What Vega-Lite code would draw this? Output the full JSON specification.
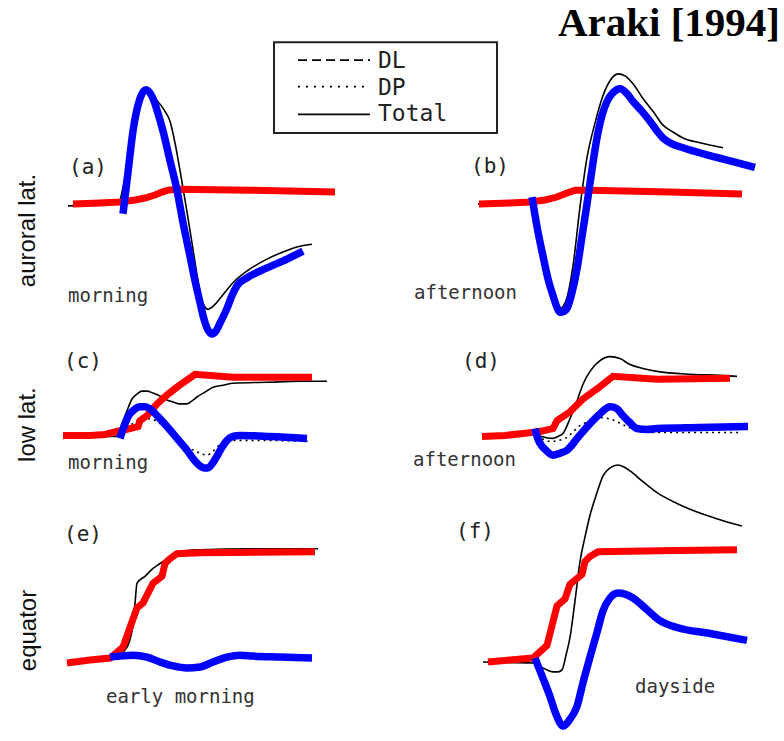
{
"$schema":"https://vega.github.io/schema/vega-lite/v6.json",
"width":784,"height":741,"padding":0,
"autosize":{"type":"fit","contains":"padding"},
"background":"white",
"config":{"view":{"stroke":null}},
"datasets":{
"total":[
{"p":"a","x":68,"y":209},{"p":"a","x":100,"y":208},{"p":"a","x":118,"y":207},{"p":"a","x":125,"y":180},{"p":"a","x":133,"y":135},{"p":"a","x":140,"y":102},{"p":"a","x":147,"y":93},{"p":"a","x":155,"y":100},{"p":"a","x":165,"y":113},{"p":"a","x":170,"y":123},{"p":"a","x":175,"y":145},{"p":"a","x":180,"y":173},{"p":"a","x":187,"y":215},{"p":"a","x":193,"y":253},{"p":"a","x":198,"y":285},{"p":"a","x":203,"y":308},{"p":"a","x":208,"y":314},{"p":"a","x":214,"y":310},{"p":"a","x":220,"y":303},{"p":"a","x":233,"y":287},{"p":"a","x":250,"y":273},{"p":"a","x":267,"y":263},{"p":"a","x":285,"y":255},{"p":"a","x":300,"y":250},{"p":"a","x":312,"y":248},
{"p":"b","x":478,"y":207},{"p":"b","x":530,"y":205},{"p":"b","x":540,"y":235},{"p":"b","x":548,"y":275},{"p":"b","x":555,"y":305},{"p":"b","x":560,"y":313},{"p":"b","x":566,"y":305},{"p":"b","x":573,"y":270},{"p":"b","x":580,"y":210},{"p":"b","x":587,"y":160},{"p":"b","x":595,"y":125},{"p":"b","x":602,"y":100},{"p":"b","x":610,"y":82},{"p":"b","x":618,"y":75},{"p":"b","x":625,"y":77},{"p":"b","x":633,"y":85},{"p":"b","x":643,"y":100},{"p":"b","x":653,"y":113},{"p":"b","x":663,"y":127},{"p":"b","x":673,"y":134},{"p":"b","x":683,"y":140},{"p":"b","x":700,"y":145},{"p":"b","x":723,"y":150},
{"p":"c","x":63,"y":443},{"p":"c","x":100,"y":443},{"p":"c","x":117,"y":443},{"p":"c","x":122,"y":430},{"p":"c","x":127,"y":417},{"p":"c","x":132,"y":405},{"p":"c","x":137,"y":400},{"p":"c","x":142,"y":397},{"p":"c","x":147,"y":397},{"p":"c","x":153,"y":399},{"p":"c","x":160,"y":402},{"p":"c","x":167,"y":406},{"p":"c","x":173,"y":408},{"p":"c","x":180,"y":410},{"p":"c","x":187,"y":410},{"p":"c","x":192,"y":407},{"p":"c","x":197,"y":403},{"p":"c","x":205,"y":398},{"p":"c","x":213,"y":393},{"p":"c","x":223,"y":391},{"p":"c","x":233,"y":389},{"p":"c","x":267,"y":388},{"p":"c","x":300,"y":387},{"p":"c","x":327,"y":387},
{"p":"d","x":482,"y":443},{"p":"d","x":520,"y":441},{"p":"d","x":537,"y":442},{"p":"d","x":545,"y":444},{"p":"d","x":553,"y":445},{"p":"d","x":558,"y":443},{"p":"d","x":563,"y":440},{"p":"d","x":570,"y":425},{"p":"d","x":577,"y":407},{"p":"d","x":583,"y":390},{"p":"d","x":590,"y":377},{"p":"d","x":600,"y":366},{"p":"d","x":610,"y":362},{"p":"d","x":620,"y":364},{"p":"d","x":630,"y":370},{"p":"d","x":643,"y":374},{"p":"d","x":657,"y":377},{"p":"d","x":690,"y":380},{"p":"d","x":720,"y":381},{"p":"d","x":737,"y":382},
{"p":"e","x":67,"y":673},{"p":"e","x":110,"y":668},{"p":"e","x":125,"y":660},{"p":"e","x":133,"y":635},{"p":"e","x":135,"y":613},{"p":"e","x":137,"y":592},{"p":"e","x":145,"y":585},{"p":"e","x":153,"y":577},{"p":"e","x":160,"y":572},{"p":"e","x":167,"y":567},{"p":"e","x":177,"y":560},{"p":"e","x":200,"y":558},{"p":"e","x":250,"y":557},{"p":"e","x":318,"y":557},
{"p":"f","x":483,"y":672},{"p":"f","x":533,"y":673},{"p":"f","x":543,"y":678},{"p":"f","x":553,"y":682},{"p":"f","x":558,"y":682},{"p":"f","x":562,"y":680},{"p":"f","x":566,"y":665},{"p":"f","x":570,"y":647},{"p":"f","x":575,"y":610},{"p":"f","x":580,"y":570},{"p":"f","x":585,"y":545},{"p":"f","x":590,"y":523},{"p":"f","x":597,"y":500},{"p":"f","x":603,"y":483},{"p":"f","x":610,"y":475},{"p":"f","x":618,"y":472},{"p":"f","x":624,"y":474},{"p":"f","x":630,"y":478},{"p":"f","x":643,"y":489},{"p":"f","x":657,"y":500},{"p":"f","x":673,"y":509},{"p":"f","x":690,"y":517},{"p":"f","x":715,"y":526},{"p":"f","x":742,"y":534}
],
"dpthin":[
{"p":"c","x":118,"y":443},{"p":"c","x":130,"y":432},{"p":"c","x":140,"y":426},{"p":"c","x":150,"y":425},{"p":"c","x":160,"y":430},{"p":"c","x":175,"y":442},{"p":"c","x":190,"y":455},{"p":"c","x":200,"y":460},{"p":"c","x":207,"y":462},{"p":"c","x":213,"y":458},{"p":"c","x":220,"y":451},{"p":"c","x":230,"y":447},{"p":"c","x":260,"y":447},{"p":"c","x":309,"y":448},
{"p":"d","x":537,"y":442},{"p":"d","x":550,"y":448},{"p":"d","x":565,"y":445},{"p":"d","x":580,"y":432},{"p":"d","x":593,"y":426},{"p":"d","x":603,"y":424},{"p":"d","x":612,"y":426},{"p":"d","x":625,"y":432},{"p":"d","x":640,"y":438},{"p":"d","x":660,"y":439},{"p":"d","x":740,"y":439}
],
"dl":[
{"p":"a","x":73,"y":207},{"p":"a","x":100,"y":206},{"p":"a","x":120,"y":205},{"p":"a","x":135,"y":203},{"p":"a","x":145,"y":201},{"p":"a","x":155,"y":198},{"p":"a","x":162,"y":195},{"p":"a","x":168,"y":193},{"p":"a","x":180,"y":192},{"p":"a","x":250,"y":193},{"p":"a","x":335,"y":195},
{"p":"b","x":479,"y":207},{"p":"b","x":510,"y":206},{"p":"b","x":530,"y":205},{"p":"b","x":545,"y":203},{"p":"b","x":557,"y":200},{"p":"b","x":567,"y":196},{"p":"b","x":575,"y":193},{"p":"b","x":590,"y":193},{"p":"b","x":670,"y":195},{"p":"b","x":742,"y":197},
{"p":"c","x":63,"y":442},{"p":"c","x":90,"y":442},{"p":"c","x":105,"y":441},{"p":"c","x":117,"y":438},{"p":"c","x":130,"y":435},{"p":"c","x":138,"y":433},{"p":"c","x":140,"y":427},{"p":"c","x":147,"y":422},{"p":"c","x":157,"y":410},{"p":"c","x":167,"y":401},{"p":"c","x":177,"y":393},{"p":"c","x":195,"y":380},{"p":"c","x":233,"y":383},{"p":"c","x":312,"y":383},
{"p":"d","x":482,"y":443},{"p":"d","x":505,"y":442},{"p":"d","x":523,"y":440},{"p":"d","x":540,"y":438},{"p":"d","x":553,"y":435},{"p":"d","x":557,"y":427},{"p":"d","x":570,"y":418},{"p":"d","x":583,"y":405},{"p":"d","x":598,"y":394},{"p":"d","x":613,"y":382},{"p":"d","x":657,"y":385},{"p":"d","x":730,"y":384},
{"p":"e","x":67,"y":673},{"p":"e","x":90,"y":670},{"p":"e","x":110,"y":668},{"p":"e","x":123,"y":657},{"p":"e","x":130,"y":637},{"p":"e","x":137,"y":617},{"p":"e","x":143,"y":612},{"p":"e","x":148,"y":602},{"p":"e","x":153,"y":592},{"p":"e","x":162,"y":585},{"p":"e","x":165,"y":572},{"p":"e","x":170,"y":567},{"p":"e","x":177,"y":562},{"p":"e","x":200,"y":561},{"p":"e","x":315,"y":560},
{"p":"f","x":488,"y":672},{"p":"f","x":510,"y":670},{"p":"f","x":533,"y":668},{"p":"f","x":547,"y":655},{"p":"f","x":552,"y":635},{"p":"f","x":557,"y":615},{"p":"f","x":565,"y":608},{"p":"f","x":570,"y":593},{"p":"f","x":582,"y":583},{"p":"f","x":585,"y":570},{"p":"f","x":590,"y":565},{"p":"f","x":598,"y":560},{"p":"f","x":660,"y":559},{"p":"f","x":737,"y":558}
],
"dp":[
{"p":"a","x":123,"y":217},{"p":"a","x":128,"y":175},{"p":"a","x":133,"y":133},{"p":"a","x":140,"y":100},{"p":"a","x":146,"y":91},{"p":"a","x":153,"y":100},{"p":"a","x":158,"y":115},{"p":"a","x":163,"y":133},{"p":"a","x":170,"y":163},{"p":"a","x":177,"y":193},{"p":"a","x":183,"y":226},{"p":"a","x":190,"y":260},{"p":"a","x":195,"y":285},{"p":"a","x":200,"y":307},{"p":"a","x":204,"y":324},{"p":"a","x":208,"y":335},{"p":"a","x":212,"y":339},{"p":"a","x":216,"y":336},{"p":"a","x":220,"y":328},{"p":"a","x":227,"y":313},{"p":"a","x":232,"y":300},{"p":"a","x":237,"y":290},{"p":"a","x":247,"y":282},{"p":"a","x":267,"y":272},{"p":"a","x":287,"y":263},{"p":"a","x":303,"y":255},
{"p":"b","x":532,"y":200},{"p":"b","x":537,"y":230},{"p":"b","x":543,"y":260},{"p":"b","x":548,"y":283},{"p":"b","x":553,"y":300},{"p":"b","x":557,"y":312},{"p":"b","x":560,"y":317},{"p":"b","x":564,"y":316},{"p":"b","x":567,"y":313},{"p":"b","x":572,"y":297},{"p":"b","x":577,"y":273},{"p":"b","x":582,"y":240},{"p":"b","x":587,"y":207},{"p":"b","x":592,"y":172},{"p":"b","x":597,"y":140},{"p":"b","x":602,"y":117},{"p":"b","x":607,"y":103},{"p":"b","x":613,"y":94},{"p":"b","x":620,"y":90},{"p":"b","x":627,"y":95},{"p":"b","x":633,"y":103},{"p":"b","x":642,"y":113},{"p":"b","x":650,"y":123},{"p":"b","x":657,"y":133},{"p":"b","x":663,"y":140},{"p":"b","x":672,"y":146},{"p":"b","x":683,"y":150},{"p":"b","x":710,"y":158},{"p":"b","x":733,"y":164},{"p":"b","x":755,"y":170},
{"p":"c","x":120,"y":445},{"p":"c","x":124,"y":433},{"p":"c","x":128,"y":423},{"p":"c","x":134,"y":416},{"p":"c","x":140,"y":413},{"p":"c","x":145,"y":413},{"p":"c","x":150,"y":415},{"p":"c","x":158,"y":423},{"p":"c","x":167,"y":433},{"p":"c","x":177,"y":445},{"p":"c","x":187,"y":457},{"p":"c","x":195,"y":468},{"p":"c","x":200,"y":473},{"p":"c","x":204,"y":475},{"p":"c","x":208,"y":475},{"p":"c","x":212,"y":471},{"p":"c","x":217,"y":463},{"p":"c","x":222,"y":454},{"p":"c","x":227,"y":447},{"p":"c","x":233,"y":443},{"p":"c","x":240,"y":442},{"p":"c","x":270,"y":443},{"p":"c","x":307,"y":445},
{"p":"d","x":535,"y":435},{"p":"d","x":537,"y":443},{"p":"d","x":540,"y":450},{"p":"d","x":546,"y":457},{"p":"d","x":553,"y":462},{"p":"d","x":560,"y":460},{"p":"d","x":567,"y":457},{"p":"d","x":578,"y":444},{"p":"d","x":590,"y":430},{"p":"d","x":600,"y":420},{"p":"d","x":610,"y":413},{"p":"d","x":617,"y":415},{"p":"d","x":623,"y":422},{"p":"d","x":630,"y":429},{"p":"d","x":637,"y":435},{"p":"d","x":647,"y":436},{"p":"d","x":657,"y":435},{"p":"d","x":700,"y":434},{"p":"d","x":748,"y":433},
{"p":"e","x":110,"y":667},{"p":"e","x":133,"y":665},{"p":"e","x":147,"y":667},{"p":"e","x":160,"y":672},{"p":"e","x":173,"y":676},{"p":"e","x":187,"y":678},{"p":"e","x":200,"y":677},{"p":"e","x":213,"y":672},{"p":"e","x":227,"y":667},{"p":"e","x":240,"y":665},{"p":"e","x":253,"y":666},{"p":"e","x":280,"y":667},{"p":"e","x":312,"y":668},
{"p":"f","x":535,"y":668},{"p":"f","x":542,"y":686},{"p":"f","x":550,"y":707},{"p":"f","x":556,"y":725},{"p":"f","x":563,"y":737},{"p":"f","x":570,"y":730},{"p":"f","x":577,"y":717},{"p":"f","x":583,"y":693},{"p":"f","x":590,"y":667},{"p":"f","x":597,"y":642},{"p":"f","x":603,"y":620},{"p":"f","x":610,"y":607},{"p":"f","x":618,"y":602},{"p":"f","x":625,"y":603},{"p":"f","x":633,"y":607},{"p":"f","x":645,"y":617},{"p":"f","x":660,"y":630},{"p":"f","x":677,"y":637},{"p":"f","x":710,"y":643},{"p":"f","x":747,"y":650}
],
"legbox":[{"x":274,"x2":497,"y":43,"y2":135}],
"legline":[{"k":"DL","x":298,"x2":370,"y":61},{"k":"DP","x":298,"x2":370,"y":88},{"k":"Total","x":298,"x2":370,"y":116}],
"legtext":[{"t":"DL","x":378,"y":62},{"t":"DP","x":378,"y":89},{"t":"Total","x":378,"y":116}],
"labels":[{"t":"(a)","x":69,"y":171},{"t":"(b)","x":471,"y":170},{"t":"(c)","x":64,"y":367},{"t":"(d)","x":462,"y":367},{"t":"(e)","x":64,"y":543},{"t":"(f)","x":456,"y":540}],
"captions":[{"t":"morning","x":68,"y":300},{"t":"afternoon","x":414,"y":297},{"t":"morning","x":68,"y":470},{"t":"afternoon","x":413,"y":467},{"t":"early morning","x":106,"y":707},{"t":"dayside","x":635,"y":697}],
"rows":[{"t":"auroral lat.","x":28,"y":234},{"t":"low lat.","x":28,"y":431},{"t":"equator","x":29,"y":640}],
"title":[{"t":"Araki [1994]","x":780,"y":37}]
},
"encoding":{
"x":{"field":"x","type":"quantitative","scale":{"domain":[0,784],"nice":false,"zero":false},"axis":null},
"y":{"field":"y","type":"quantitative","scale":{"domain":[0,741],"nice":false,"zero":false,"reverse":true},"axis":null}
},
"layer":[
{"data":{"name":"legbox"},"mark":{"type":"rect","fill":null,"stroke":"#222","strokeWidth":2},"encoding":{"x2":{"field":"x2"},"y2":{"field":"y2"}}},
{"data":{"name":"legline"},"mark":{"type":"rule","color":"black","strokeWidth":1.8},"encoding":{"x2":{"field":"x2"},"strokeDash":{"field":"k","type":"nominal","scale":{"domain":["DL","DP","Total"],"range":[[9,5],[2,6],[1,0]]},"legend":null}}},
{"data":{"name":"legtext"},"mark":{"type":"text","align":"left","baseline":"middle","font":"DejaVu Sans Mono","fontSize":23,"color":"#222"},"encoding":{"text":{"field":"t"}}},
{"data":{"name":"total"},"mark":{"type":"line","color":"black","strokeWidth":1.6,"interpolate":"monotone"},"encoding":{"detail":{"field":"p"}}},
{"data":{"name":"dpthin"},"mark":{"type":"line","color":"black","strokeWidth":1.6,"strokeDash":[2,4],"interpolate":"monotone"},"encoding":{"detail":{"field":"p"}}},
{"data":{"name":"dl"},"mark":{"type":"line","color":"#ff0000","strokeWidth":7,"interpolate":"linear"},"encoding":{"detail":{"field":"p"}}},
{"data":{"name":"dp"},"mark":{"type":"line","color":"#0000ff","strokeWidth":7.5,"interpolate":"monotone"},"encoding":{"detail":{"field":"p"}}},
{"data":{"name":"labels"},"mark":{"type":"text","align":"left","baseline":"middle","font":"DejaVu Sans Mono","fontSize":21,"color":"#222"},"encoding":{"text":{"field":"t"}}},
{"data":{"name":"captions"},"mark":{"type":"text","align":"left","baseline":"middle","font":"DejaVu Sans Mono","fontSize":19,"color":"#333"},"encoding":{"text":{"field":"t"}}},
{"data":{"name":"rows"},"mark":{"type":"text","align":"center","baseline":"middle","angle":270,"font":"Liberation Sans","fontSize":24,"color":"#111"},"encoding":{"text":{"field":"t"}}},
{"data":{"name":"title"},"mark":{"type":"text","align":"right","baseline":"alphabetic","font":"Liberation Serif","fontWeight":"bold","fontSize":41,"color":"black"},"encoding":{"text":{"field":"t"}}}
]
}
